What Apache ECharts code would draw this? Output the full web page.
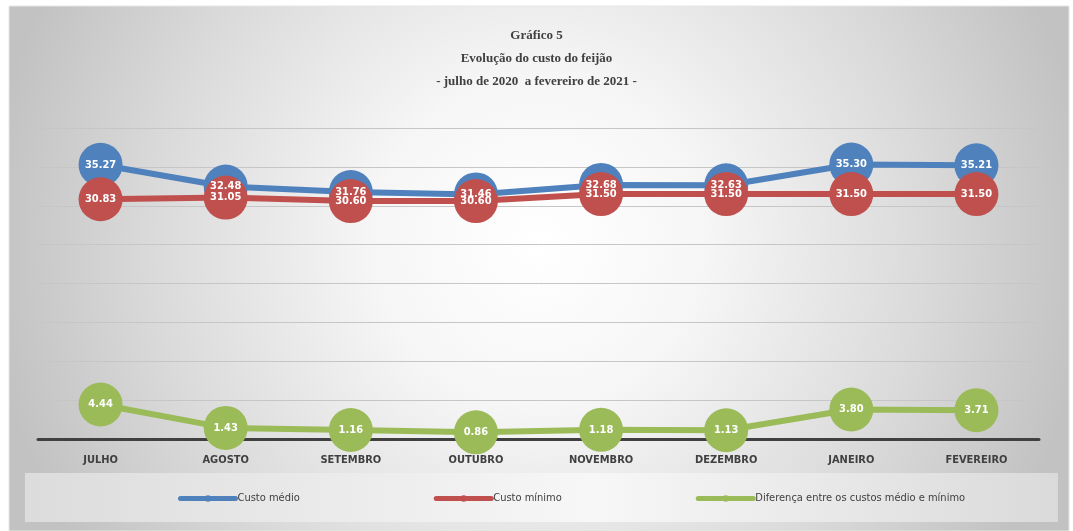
<!DOCTYPE html>
<html>
<head>
<meta charset="utf-8">
<script src="https://cdn.jsdelivr.net/npm/echarts@6/dist/echarts.min.js"></script>
<style>
  html, body { margin: 0; padding: 0; background: #fff; }
  #main { width: 1073px; height: 531px; }
</style>
</head>
<body>
<div id="main"></div>
<script>
const meses = ['JULHO', 'AGOSTO', 'SETEMBRO', 'OUTUBRO', 'NOVEMBRO', 'DEZEMBRO', 'JANEIRO', 'FEVEREIRO']
const custoMedio = [35.27, 32.48, 31.76, 31.46, 32.68, 32.63, 35.30, 35.21]
const custoMinimo = [30.83, 31.05, 30.60, 30.60, 31.50, 31.50, 31.50, 31.50]
const diferenca = [4.44, 1.43, 1.16, 0.86, 1.18, 1.13, 3.80, 3.71]

const narrow = '"Liberation Sans Narrow", "DejaVu Sans Condensed", "Liberation Sans", sans-serif'
const serif = '"Liberation Serif", "DejaVu Serif", serif'

function serie(name, data, color) {
  return {
    name: name,
    type: 'line',
    data: data,
    symbol: 'circle',
    symbolSize: 44,
    lineStyle: { width: 6, color: color },
    itemStyle: { color: color },
    label: {
      show: true,
      position: 'inside',
      formatter: p => p.value.toFixed(2),
      color: '#fff',
      fontFamily: narrow,
      fontWeight: 'bold',
      fontSize: 11
    },
    emphasis: { disabled: true },
    animation: false
  }
}

const chart = echarts.init(document.getElementById('main'))
chart.setOption({
  graphic: [
    {
      type: 'rect',
      z: -10,
      shape: { x: 9, y: 6, width: 1060, height: 525 },
      style: {
        fill: new echarts.graphic.RadialGradient(0.5, 0.45, 1.05, [
          { offset: 0, color: '#ffffff' },
          { offset: 0.3, color: '#f6f6f6' },
          { offset: 0.7, color: '#dadada' },
          { offset: 1, color: '#c2c2c2' }
        ]),
        stroke: '#e6e6e6',
        lineWidth: 1
      }
    },
    {
      type: 'rect',
      z: -9,
      shape: { x: 25, y: 473, width: 1033, height: 49 },
      style: {
        fill: new echarts.graphic.LinearGradient(0, 0, 1, 0, [
          { offset: 0, color: '#dcdcdc' },
          { offset: 0.55, color: '#f7f7f7' },
          { offset: 1, color: '#dadada' }
        ])
      }
    }
  ],
  title: {
    text: 'Gráfico 5\nEvolução do custo do feijão\n- julho de 2020  a fevereiro de 2021 -',
    left: 'center',
    top: 19,
    textStyle: {
      fontFamily: serif,
      fontWeight: 'bold',
      fontSize: 13,
      color: '#404040',
      lineHeight: 23
    }
  },
  legend: {
    left: 178,
    top: 493,
    padding: 0,
    itemWidth: 55,
    itemHeight: 8,
    itemGap: 134,
    lineStyle: { width: 5, cap: 'round' },
    textStyle: { fontFamily: narrow, fontSize: 11, color: '#404040', padding: [0, 0, 0, -3] },
    data: ['Custo médio', 'Custo mínimo', 'Diferença entre os custos médio e mínimo']
  },
  grid: { left: 38, right: 34, top: 128, bottom: 92 },
  xAxis: {
    type: 'category',
    data: meses,
    boundaryGap: true,
    axisLine: { lineStyle: { color: '#404040', width: 3 } },
    axisTick: { show: false },
    axisLabel: {
      margin: 16,
      fontFamily: narrow,
      fontWeight: 'bold',
      fontSize: 11,
      color: '#404040'
    }
  },
  yAxis: {
    type: 'value',
    min: 0,
    max: 40,
    interval: 5,
    axisLabel: { show: false },
    axisLine: { show: false },
    axisTick: { show: false },
    splitLine: { lineStyle: { color: '#c6c6c6', width: 1 } }
  },
  series: [
    serie('Custo médio', custoMedio, '#4f81bd'),
    serie('Custo mínimo', custoMinimo, '#c0504d'),
    serie('Diferença entre os custos médio e mínimo', diferenca, '#9bbb59')
  ]
})
</script>
</body>
</html>
